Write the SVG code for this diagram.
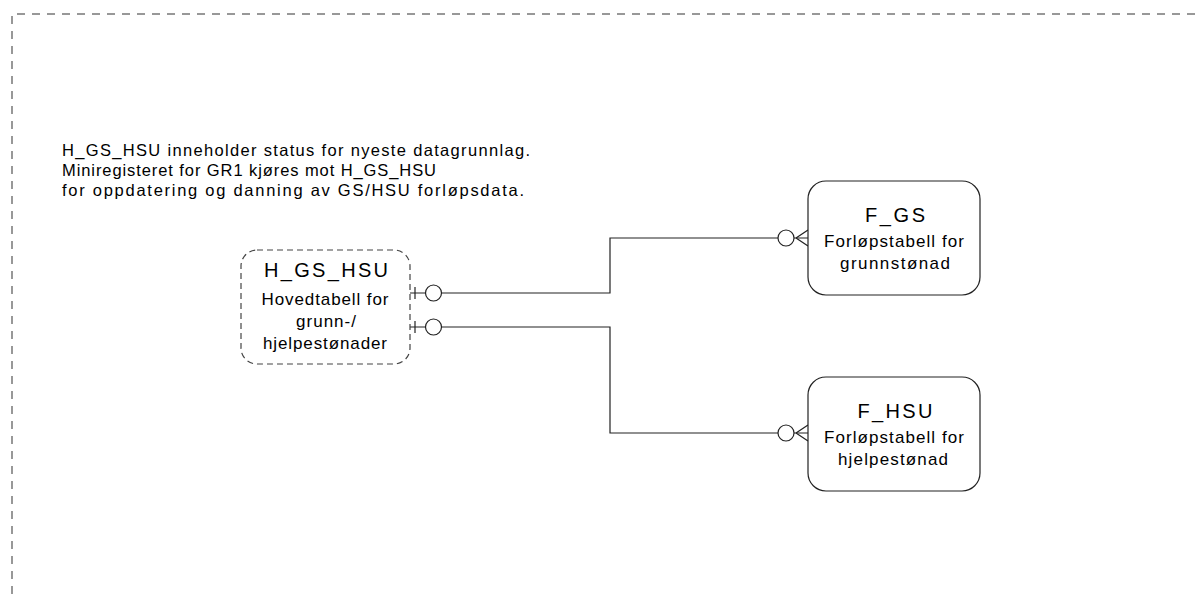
<svg xmlns="http://www.w3.org/2000/svg" width="1200" height="594" viewBox="0 0 1200 594">
  <style>
    .frame { fill: none; stroke: #777; stroke-width: 1.5; stroke-dasharray: 8 7; }
    .ent { fill: #fff; stroke: #222; stroke-width: 1.2; }
    .entd { fill: #fff; stroke: #444; stroke-width: 1.2; stroke-dasharray: 6 4; }
    .t { font-family: "Liberation Sans", Arial, sans-serif; fill: #000; }
    .title { font-size: 20px; text-anchor: middle; }
    .sub { font-size: 17px; text-anchor: middle; }
    .note { font-size: 16.5px; }
    .conn { fill: none; stroke: #222; stroke-width: 1.2; }
    .circ { fill: #fff; stroke: #222; stroke-width: 1.2; }
  </style>
  <defs>
    <g id="oneOpt">
      <line x1="5" y1="-6" x2="5" y2="6" class="conn"/>
      <circle cx="23.5" cy="0" r="8" class="circ"/>
    </g>
    <g id="manyOpt">
      <circle cx="-22" cy="0" r="8" class="circ"/>
      <path d="M-12,0 L0,-8 M-12,0 L0,8" class="conn"/>
    </g>
  </defs>
  <rect width="1200" height="594" fill="#fff"/>
  <path class="frame" d="M12,594 V14 H1200"/>

  <g id="note">
    <text class="t note" x="62" y="156" textLength="468" lengthAdjust="spacing">H_GS_HSU inneholder status for nyeste datagrunnlag.</text>
    <text class="t note" x="62" y="176" textLength="374" lengthAdjust="spacing">Miniregisteret for GR1 kjøres mot H_GS_HSU</text>
    <text class="t note" x="62" y="196" textLength="462" lengthAdjust="spacing">for oppdatering og danning av GS/HSU forløpsdata.</text>
  </g>

  <g id="connectors">
    <path class="conn" d="M410,293 H610 V238 H808"/>
    <path class="conn" d="M410,327 H610 V433 H808"/>
    <use href="#oneOpt" x="410" y="293"/>
    <use href="#oneOpt" x="410" y="327"/>
    <use href="#manyOpt" x="808" y="238"/>
    <use href="#manyOpt" x="808" y="433"/>
  </g>

  <g id="H_GS_HSU">
    <rect class="entd" x="241" y="250" width="169" height="114" rx="16"/>
    <text class="t title" x="326" y="277" textLength="124" lengthAdjust="spacing">H_GS_HSU</text>
    <text class="t sub" x="325" y="305" textLength="127" lengthAdjust="spacing">Hovedtabell for</text>
    <text class="t sub" x="326" y="327" textLength="60" lengthAdjust="spacing">grunn-/</text>
    <text class="t sub" x="325" y="349" textLength="124" lengthAdjust="spacing">hjelpestønader</text>
  </g>

  <g id="F_GS">
    <rect class="ent" x="808" y="181" width="172" height="114" rx="18"/>
    <text class="t title" x="895" y="222" textLength="60" lengthAdjust="spacing">F_GS</text>
    <text class="t sub" x="894" y="247" textLength="140" lengthAdjust="spacing">Forløpstabell for</text>
    <text class="t sub" x="895" y="269" textLength="110" lengthAdjust="spacing">grunnstønad</text>
  </g>

  <g id="F_HSU">
    <rect class="ent" x="808" y="377" width="172" height="114" rx="18"/>
    <text class="t title" x="895" y="418" textLength="75" lengthAdjust="spacing">F_HSU</text>
    <text class="t sub" x="894" y="443" textLength="140" lengthAdjust="spacing">Forløpstabell for</text>
    <text class="t sub" x="893" y="465" textLength="110" lengthAdjust="spacing">hjelpestønad</text>
  </g>
</svg>
